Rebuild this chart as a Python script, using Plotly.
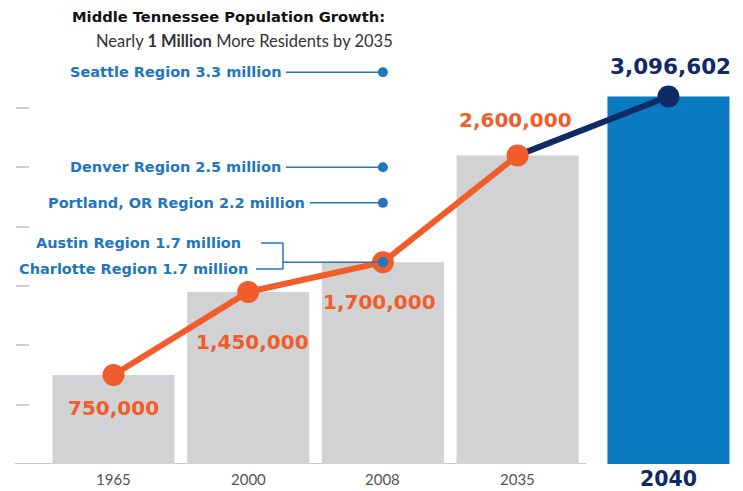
import plotly.graph_objects as go

# ---------------- data ----------------
years = ["1965", "2000", "2008", "2035", "2040"]
population = [750000, 1450000, 1700000, 2600000, 3096602]
cities = ["Seattle Region", "Denver Region", "Portland, OR Region", "Austin Region", "Charlotte Region"]
city_pop = [3.3, 2.5, 2.2, 1.7, 1.7]  # millions
y_ticks = [500000, 1000000, 1500000, 2000000, 2500000, 3000000]

title = "Middle Tennessee Population Growth:"
subtitle = "Nearly <b>1 Million</b> More Residents by 2035"

# ---------------- styles ----------------
ORANGE = "#F15D2A"
NAVY = "#0F2A64"
BLUE_BAR = "#0A7BC1"
GRAY_BAR = "#D1D2D4"
BLUE_TXT = "#2276BC"
TICK_GRAY = "#CFCFCF"
W, H = 743, 491
OFF = 8                # page body margin (screen px)
BASE_PX = 464          # baseline row on screen
PX_PER_M = 118.7       # pixels per million
X0_PX, DX_PX = 113.5, 134.7
FONT = "Lato"
NUMFONT = "DejaVu Sans"
BASE_FIG = BASE_PX - OFF


def xd(px):            # screen px -> x data
    return (px - X0_PX) / DX_PX


def yd(py):            # screen px -> y data
    return (BASE_PX - py) / PX_PER_M * 1e6


def px_paper(sx):
    return (sx - OFF) / W


def py_paper(sy):
    return (BASE_PX - sy) / BASE_FIG


pos = [0, 1, 2, 3, 4.12]
bw = 0.906

fig = go.Figure()

# bars
fig.add_trace(go.Bar(x=pos[:4], y=population[:4], width=bw, marker_color=GRAY_BAR,
                     marker_line_width=0, hoverinfo="skip"))
fig.add_trace(go.Bar(x=pos[4:], y=population[4:], width=bw, marker_color=BLUE_BAR,
                     marker_line_width=0, hoverinfo="skip"))

# navy projection segment
fig.add_trace(go.Scatter(x=pos[3:5], y=population[3:5], mode="lines",
                         line=dict(color=NAVY, width=6), hoverinfo="skip"))
# orange historical line
fig.add_trace(go.Scatter(x=pos[:4], y=population[:4], mode="lines+markers",
                         line=dict(color=ORANGE, width=6),
                         marker=dict(size=22, color=ORANGE), hoverinfo="skip"))
# navy 2040 marker
fig.add_trace(go.Scatter(x=pos[4:], y=population[4:], mode="markers",
                         marker=dict(size=22, color=NAVY), hoverinfo="skip"))
# comparison city dots at 2008 column
fig.add_trace(go.Scatter(x=[pos[2]] * len(city_pop), y=[c * 1e6 for c in city_pop],
                         mode="markers", marker=dict(size=10, color=BLUE_TXT),
                         hoverinfo="skip"))

annotations = []
shapes = []

# title
annotations.append(dict(x=px_paper(228), y=py_paper(16), xref="paper", yref="paper",
                        xanchor="center", yanchor="middle",
                        text="<b>" + title + "</b>", showarrow=False,
                        font=dict(family=NUMFONT, size=14.7, color="#111111")))
annotations.append(dict(x=px_paper(244), y=py_paper(41), xref="paper", yref="paper",
                        xanchor="center", yanchor="middle",
                        text=subtitle, showarrow=False,
                        font=dict(family=FONT, size=16.5, color="#333333")))

# value labels
label_shift = [-33, -50, -40, 35, 30]
label_dx = [0, 4, -3, -2, 2]
for i, v in enumerate(population):
    col = NAVY if i == 4 else ORANGE
    annotations.append(dict(x=pos[i], y=v, xref="x", yref="y", text=f"<b>{v:,}</b>",
                            showarrow=False, yshift=label_shift[i], xshift=label_dx[i],
                            font=dict(family=NUMFONT, size=21.5 if i == 4 else 20, color=col)))

# year labels
for i, yr in enumerate(years):
    if i < 4:
        annotations.append(dict(x=pos[i], y=0, xref="x", yref="y", text=yr, showarrow=False,
                                yanchor="top", yshift=-4,
                                font=dict(family=FONT, size=15, color="#555555")))
    else:
        annotations.append(dict(x=pos[i], y=0, xref="x", yref="y", text="<b>" + yr + "</b>",
                                showarrow=False, yanchor="top", yshift=-1,
                                font=dict(family=NUMFONT, size=20.5, color=NAVY)))

# comparison city labels
text_end = [283, 283, 307]
for i in range(3):
    v = city_pop[i] * 1e6
    annotations.append(dict(x=px_paper(text_end[i]), y=v, xref="paper", yref="y",
                            text=f"<b>{cities[i]} {city_pop[i]} million</b>", showarrow=False,
                            xanchor="right",
                            font=dict(family=NUMFONT, size=14.5, color=BLUE_TXT)))
    shapes.append(dict(type="line", xref="x", yref="y", x0=xd(text_end[i] + 3), x1=pos[2],
                       y0=v, y1=v, line=dict(color=BLUE_TXT, width=1.5)))

# Austin / Charlotte bracket
v = city_pop[3] * 1e6
py_a, py_c = 243, 269
annotations.append(dict(x=px_paper(243), y=yd(py_a), xref="paper", yref="y",
                        text=f"<b>{cities[3]} {city_pop[3]} million</b>", showarrow=False,
                        xanchor="right", font=dict(family=NUMFONT, size=14.5, color=BLUE_TXT)))
annotations.append(dict(x=px_paper(250), y=yd(py_c), xref="paper", yref="y",
                        text=f"<b>{cities[4]} {city_pop[4]} million</b>", showarrow=False,
                        xanchor="right", font=dict(family=NUMFONT, size=14.5, color=BLUE_TXT)))
bx = 283
for (x0, y0, x1, y1) in [(261, py_a, bx, py_a), (bx, py_a, bx, py_c), (256, py_c, bx, py_c)]:
    shapes.append(dict(type="line", xref="x", yref="y", x0=xd(x0), x1=xd(x1),
                       y0=yd(y0), y1=yd(y1), line=dict(color=BLUE_TXT, width=1.5)))
shapes.append(dict(type="line", xref="x", yref="y", x0=xd(bx), x1=pos[2], y0=v, y1=v,
                   line=dict(color=BLUE_TXT, width=1.5)))

# baseline
shapes.append(dict(type="line", xref="x", yref="y", x0=xd(15), x1=xd(586), y0=0, y1=0,
                   line=dict(color="#C9C9C9", width=2), layer="below"))

fig.update_layout(
    width=W, height=H,
    margin=dict(l=0, r=0, t=0, b=H - BASE_FIG),
    paper_bgcolor="white", plot_bgcolor="white",
    showlegend=False, barmode="overlay",
    annotations=annotations, shapes=shapes,
    xaxis=dict(range=[xd(OFF), xd(OFF + W)], showgrid=False, zeroline=False,
               showticklabels=False, showline=False, ticks="", fixedrange=True),
    yaxis=dict(range=[0, yd(OFF)], showgrid=False, zeroline=False, showticklabels=False,
               showline=False, ticks="inside", ticklen=13, tickwidth=2, tickcolor=TICK_GRAY,
               tickvals=y_ticks, anchor="free", position=px_paper(15), fixedrange=True),
)

fig.write_html("out.html", config={"displayModeBar": False})
